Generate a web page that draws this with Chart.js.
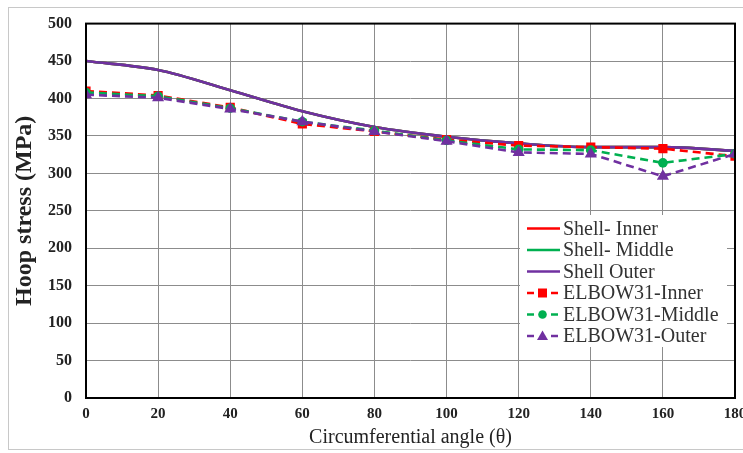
<!DOCTYPE html>
<html>
<head>
<meta charset="utf-8">
<script src="https://cdn.jsdelivr.net/npm/chart.js@4.4.1/dist/chart.umd.min.js"></script>
<style>
  html, body { margin: 0; padding: 0; background: #fff; }
  #wrap { position: relative; width: 743px; height: 453px; overflow: hidden; background: #fff; }
  #frame { position: absolute; left: 8px; top: 7px; width: 760px; height: 443px; border: 1px solid #c8c8c8; box-sizing: border-box; pointer-events: none; }
  #c { position: absolute; left: 0; top: 0; }
</style>
</head>
<body>
<div id="wrap">
  <div id="frame"></div>
  <canvas id="c" width="760" height="453" style="width:760px;height:453px"></canvas>
</div>
<script>
// ---- data ----
const angles       = [0, 20, 40, 60, 80, 100, 120, 140, 160, 180];
const shellInner   = [450, 438, 411, 383, 362, 349, 340, 335, 335, 330];
const shellMiddle  = [450, 438, 411, 383, 362, 349, 340, 335, 335, 330];
const shellOuter   = [450, 438, 411, 383, 362, 349, 340, 335, 335, 330];
const elbowInner   = [410, 404, 388, 366, 356, 345, 337, 335, 333, 323];
const elbowMiddle  = [408, 403, 387, 369, 357, 344, 332, 331, 314, 326];
const elbowOuter   = [405, 401, 386, 369, 356, 343, 328, 326, 296, 326];
const seriesLabels = ['Shell- Inner', 'Shell- Middle', 'Shell Outer', 'ELBOW31-Inner', 'ELBOW31-Middle', 'ELBOW31-Outer'];
const xTicks = [0, 20, 40, 60, 80, 100, 120, 140, 160, 180];
const yTicks = [0, 50, 100, 150, 200, 250, 300, 350, 400, 450, 500];
const xTitle = 'Circumferential angle (θ)';
const yTitle = 'Hoop stress (MPa)';

const RED = '#ff0000', GREEN = '#00b050', PURPLE = '#7030a0';
const seriesValues = [shellInner, shellMiddle, shellOuter, elbowInner, elbowMiddle, elbowOuter];
const seriesColors = [RED, GREEN, PURPLE, RED, GREEN, PURPLE];
const seriesDashed = [false, false, false, true, true, true];
const seriesMarkers = [false, false, false, 'rect', 'circle', 'triangle'];
const markerRadius = { rect: 6.5, circle: 4.8, triangle: 7 };

const datasets = seriesValues.map((vals, i) => ({
  label: seriesLabels[i],
  data: angles.map((a, k) => ({ x: a, y: vals[k] })),
  borderColor: seriesColors[i],
  backgroundColor: seriesColors[i],
  borderWidth: 2.6,
  borderDash: seriesDashed[i] ? [8, 5] : [],
  tension: seriesDashed[i] ? 0 : 0.4,
  cubicInterpolationMode: seriesDashed[i] ? 'default' : 'monotone',
  pointStyle: seriesMarkers[i] || 'circle',
  pointRadius: seriesMarkers[i] ? markerRadius[seriesMarkers[i]] : 0,
  pointBorderWidth: 0,
  order: seriesValues.length - i
}));

const SERIF = '"Liberation Serif", "Times New Roman", serif';

const framePlugin = {
  id: 'frame',
  afterDatasetsDraw(chart) {
    const { ctx, chartArea: a } = chart;
    ctx.save();
    ctx.strokeStyle = '#000';
    ctx.lineWidth = 2;
    ctx.strokeRect(a.left, a.top, a.right - a.left, a.bottom - a.top);
    ctx.restore();
  }
};

const legendPlugin = {
  id: 'boxLegend',
  afterDraw(chart) {
    const ctx = chart.ctx;
    const box = { x: 520, y: 215, w: 207, h: 132 };
    ctx.save();
    ctx.fillStyle = '#fff';
    ctx.fillRect(box.x, box.y, box.w, box.h);
    const rowY0 = 228.5, rowH = 21.5;
    const sx0 = 527, sx1 = 560, tx = 563;
    ctx.font = '20px ' + SERIF;
    ctx.textBaseline = 'middle';
    ctx.textAlign = 'left';
    seriesLabels.forEach((lab, i) => {
      const y = rowY0 + i * rowH;
      ctx.strokeStyle = seriesColors[i];
      ctx.fillStyle = seriesColors[i];
      ctx.lineWidth = 2.5;
      ctx.setLineDash([]);
      if (!seriesDashed[i]) {
        ctx.beginPath(); ctx.moveTo(sx0, y); ctx.lineTo(sx1, y); ctx.stroke();
      } else {
        ctx.beginPath(); ctx.moveTo(sx0, y); ctx.lineTo(sx0 + 7, y); ctx.stroke();
        ctx.beginPath(); ctx.moveTo(sx1 - 9, y); ctx.lineTo(sx1 - 2, y); ctx.stroke();
        const cx = 542.5;
        const m = seriesMarkers[i];
        ctx.beginPath();
        if (m === 'rect') { ctx.rect(cx - 4.5, y - 4.5, 9, 9); }
        else if (m === 'circle') { ctx.arc(cx, y, 4.3, 0, Math.PI * 2); }
        else { ctx.moveTo(cx, y - 5.5); ctx.lineTo(cx + 5.5, y + 4); ctx.lineTo(cx - 5.5, y + 4); ctx.closePath(); }
        ctx.fill();
      }
      ctx.fillStyle = '#333';
      ctx.fillText(lab, tx, y + 1);
    });
    ctx.restore();
  }
};

new Chart(document.getElementById('c'), {
  type: 'line',
  data: { datasets },
  options: {
    responsive: false,
    animation: false,
    devicePixelRatio: 1,
    layout: { padding: { top: 23, right: 25, left: 0, bottom: 0 } },
    plugins: { legend: { display: false }, tooltip: { enabled: false } },
    elements: { line: { fill: false } },
    scales: {
      x: {
        type: 'linear',
        min: 0, max: 180,
        afterBuildTicks(s) { s.ticks = xTicks.map(v => ({ value: v })); },
        afterFit(s) { s.height = 55; },
        grid: { color: '#8c8c8c', lineWidth: 1, drawTicks: false },
        border: { display: false },
        ticks: { color: '#222', padding: 7, maxRotation: 0, font: { family: SERIF, size: 15, weight: 'bold' } },
        title: { display: true, text: xTitle, color: '#222', padding: { top: 0, bottom: 3 }, font: { family: SERIF, size: 20 } }
      },
      y: {
        type: 'linear',
        min: 0, max: 500,
        afterBuildTicks(s) { s.ticks = yTicks.map(v => ({ value: v })); },
        afterFit(s) { s.width = 86; },
        grid: { color: '#8c8c8c', lineWidth: 1, drawTicks: false },
        border: { display: false },
        ticks: { color: '#222', padding: 14, font: { family: SERIF, size: 16, weight: 'bold' } },
        title: { display: true, text: yTitle, color: '#222', padding: { top: 10, bottom: 0 }, font: { family: SERIF, size: 24, weight: 'bold' } }
      }
    }
  },
  plugins: [framePlugin, legendPlugin]
});
</script>
</body>
</html>
